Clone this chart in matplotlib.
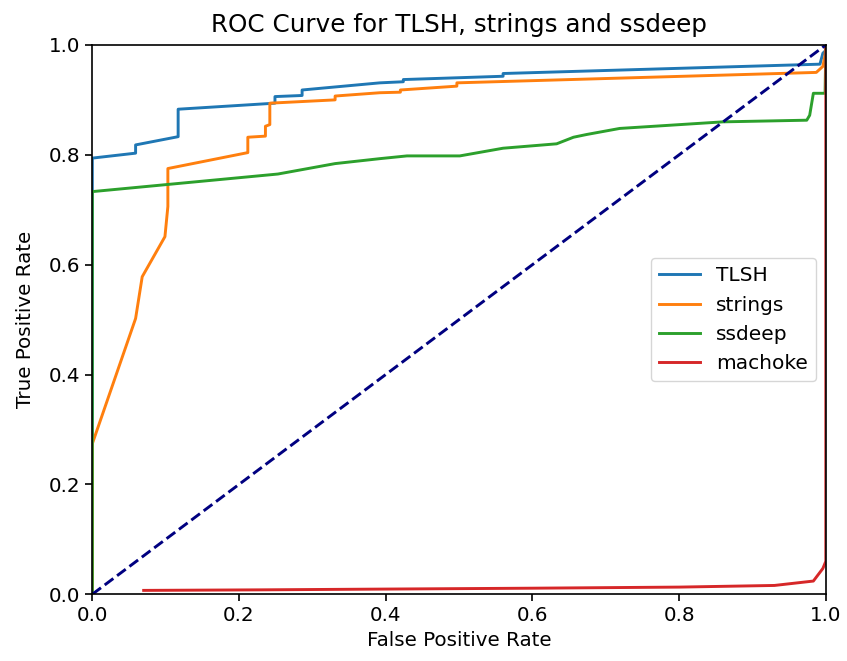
import matplotlib
matplotlib.use('Agg')
import matplotlib.pyplot as plt

# ROC points
tlsh_fpr = [0.0, 0.0, 0.059, 0.059, 0.117, 0.117, 0.249, 0.249, 0.286, 0.286, 0.392, 0.424, 0.424,
            0.56, 0.56, 0.992, 0.996, 1.0, 1.0]
tlsh_tpr = [0.0, 0.794, 0.803, 0.818, 0.833, 0.883, 0.894, 0.906, 0.908, 0.918, 0.931, 0.933, 0.937,
            0.943, 0.948, 0.965, 0.985, 0.99, 1.0]

strings_fpr = [0.0, 0.0, 0.059, 0.068, 0.099, 0.103, 0.103, 0.212, 0.212, 0.236, 0.236, 0.242, 0.242,
               0.331, 0.331, 0.392, 0.42, 0.42, 0.497, 0.497, 0.987, 0.996, 0.999, 1.0]
strings_tpr = [0.0, 0.274, 0.502, 0.578, 0.651, 0.706, 0.775, 0.804, 0.832, 0.834, 0.852, 0.855, 0.894,
               0.900, 0.907, 0.913, 0.914, 0.918, 0.925, 0.931, 0.950, 0.961, 0.982, 1.0]

ssdeep_fpr = [0.0, 0.0, 0.253, 0.331, 0.392, 0.429, 0.501, 0.560, 0.633, 0.656, 0.674, 0.719, 0.860,
              0.974, 0.978, 0.983, 0.999, 1.0]
ssdeep_tpr = [0.0, 0.733, 0.765, 0.784, 0.793, 0.798, 0.798, 0.812, 0.820, 0.832, 0.837, 0.848, 0.860,
              0.863, 0.872, 0.912, 0.912, 1.0]

machoke_fpr = [0.07, 0.23, 0.35, 0.6, 0.8, 0.93, 0.983, 0.996, 1.0, 1.0]
machoke_tpr = [0.007, 0.008, 0.009, 0.011, 0.013, 0.016, 0.024, 0.047, 0.06, 1.0]

LW = 2.1
fig = plt.figure(figsize=(8.47, 6.61), dpi=100)
ax = fig.add_axes([0.109, 0.101, 0.866, 0.831])

ax.plot(tlsh_fpr, tlsh_tpr, lw=LW, label='TLSH')
ax.plot(strings_fpr, strings_tpr, lw=LW, label='strings')
ax.plot(ssdeep_fpr, ssdeep_tpr, lw=LW, label='ssdeep')
ax.plot(machoke_fpr, machoke_tpr, lw=LW, label='machoke')
ax.plot([0, 1], [0, 1], color='navy', lw=LW, linestyle='--')

ax.set_xlim([0.0, 1.0])
ax.set_ylim([0.0, 1.0])
ax.set_xlabel('False Positive Rate', fontsize=14.3)
ax.set_ylabel('True Positive Rate', fontsize=14.3, labelpad=10)
ax.set_title('ROC Curve for TLSH, strings and ssdeep', fontsize=17.7, pad=9)
ax.tick_params(labelsize=14.3, length=5, width=1.2)
for s in ax.spines.values():
    s.set_linewidth(1.2)
ax.legend(loc='center right', fontsize=14.5)

plt.savefig('out.png')
